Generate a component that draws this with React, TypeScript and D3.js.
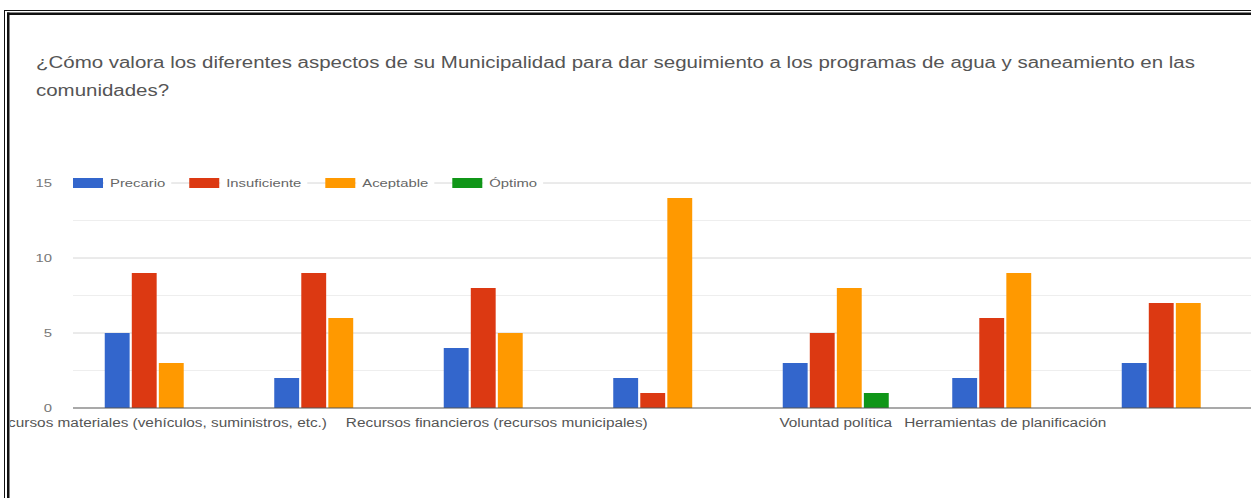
import { useEffect, useRef } from "react";
import * as d3 from "d3";

// question text (two lines, wrapped as in the form)
const titleLines = [
  "¿Cómo valora los diferentes aspectos de su Municipalidad para dar seguimiento a los programas de agua y saneamiento en las",
  "comunidades?",
];

// only some category labels are readable on the axis, the others are hidden
const categories = [
  "Recursos materiales (vehículos, suministros, etc.)",
  "",
  "Recursos financieros (recursos municipales)",
  "",
  "Voluntad política",
  "Herramientas de planificación",
  "",
];

const seriesNames = ["Precario", "Insuficiente", "Aceptable", "Óptimo"];
const precario = [5, 2, 4, 2, 3, 2, 3];
const insuficiente = [9, 9, 8, 1, 5, 6, 7];
const aceptable = [3, 6, 5, 14, 8, 9, 7];
const optimo = [0, 0, 0, 0, 1, 0, 0];
const yTicks = [0, 5, 10, 15];

const colors = ["#3366cc", "#dc3912", "#ff9900", "#109618"];

const W = 1251;
const H = 498;
const SX = 1.28; // the screenshot is stretched horizontally
const FONT = "'Liberation Sans', Arial, sans-serif";

const App = () => {
  const ref = useRef<SVGSVGElement>(null);

  useEffect(() => {
    const svg = d3.select(ref.current);
    svg.selectAll("*").remove();

    const series = [precario, insuficiente, aceptable, optimo];
    const margin = { top: 183, left: 73, bottom: 408, right: 1259.5 };

    // double frame, left and top only
    const frame = svg.append("g").attr("fill", "#111");
    frame.append("rect").attr("x", 4).attr("y", 10).attr("width", 1).attr("height", H - 10);
    frame.append("rect").attr("x", 7).attr("y", 12.5).attr("width", 2.5).attr("height", H - 12.5);
    frame.append("rect").attr("x", 4).attr("y", 10).attr("width", W).attr("height", 1);
    frame.append("rect").attr("x", 7).attr("y", 12.5).attr("width", W).attr("height", 2.5);

    svg
      .append("defs")
      .append("clipPath")
      .attr("id", "inner")
      .append("rect")
      .attr("x", 10)
      .attr("y", 16)
      .attr("width", W - 10)
      .attr("height", H - 16);

    const g = svg.append("g").attr("clip-path", "url(#inner)").attr("font-family", FONT);

    // stretched text helper
    const label = (parent: any, x: number, y: number, txt: string, size: number, fill: string, anchor = "start") => {
      const t = parent
        .append("g")
        .attr("transform", `translate(${x},${y}) scale(${SX},1)`)
        .append("text")
        .attr("font-size", size)
        .attr("fill", fill)
        .attr("text-anchor", anchor)
        .text(txt);
      return t;
    };

    titleLines.forEach((line, i) => label(g, 36, 68 + i * 28, line, 16, "#555"));

    const y = d3.scaleLinear().domain([0, 15]).range([margin.bottom, margin.top]);

    const x0 = d3
      .scaleBand<number>()
      .domain(d3.range(categories.length))
      .range([margin.left, margin.right])
      .padding(0);

    const groupW = 106;
    const x1 = d3.scaleBand<number>().domain(d3.range(series.length)).range([0, groupW]).paddingInner(0.08);

    // gridlines
    const minor = d3.pairs(yTicks).map(([a, b]) => (a + b) / 2);
    g.append("g")
      .selectAll("line")
      .data(minor)
      .join("line")
      .attr("x1", margin.left)
      .attr("x2", W)
      .attr("y1", (d) => y(d))
      .attr("y2", (d) => y(d))
      .attr("stroke", "#eeeeee");

    g.append("g")
      .selectAll("line")
      .data(yTicks.slice(1))
      .join("line")
      .attr("x1", margin.left)
      .attr("x2", W)
      .attr("y1", (d) => y(d))
      .attr("y2", (d) => y(d))
      .attr("stroke", "#d6d6d6");

    // y tick labels
    yTicks.forEach((v) => label(g, 52, y(v) + 4, String(v), 11.6, "#777", "end"));

    // bars
    series.forEach((vals, s) => {
      g.append("g")
        .attr("fill", colors[s])
        .selectAll("rect")
        .data(vals.map((v, i) => ({ v, i })).filter((d) => d.v > 0))
        .join("rect")
        .attr("x", (d) => x0(d.i)! + (x0.bandwidth() - groupW) / 2 + x1(s)!)
        .attr("y", (d) => y(d.v))
        .attr("width", x1.bandwidth())
        .attr("height", (d) => y(0) - y(d.v));
    });

    // baseline
    g.append("line")
      .attr("x1", margin.left)
      .attr("x2", W)
      .attr("y1", y(0))
      .attr("y2", y(0))
      .attr("stroke", "#555")
      .attr("stroke-width", 1.2);

    // category labels
    categories.forEach((c, i) => {
      if (c) label(g, x0(i)! + x0.bandwidth() / 2, 427, c, 12, "#555", "middle");
    });

    // legend sitting on the top gridline
    let lx = margin.left;
    const ly = y(15);
    seriesNames.forEach((name, s) => {
      g.append("rect")
        .attr("x", lx)
        .attr("y", ly - 5)
        .attr("width", 30)
        .attr("height", 10)
        .attr("fill", colors[s]);
      const bg = g.append("rect").attr("fill", "white");
      const t = label(g, lx + 37, ly + 4, name, 11.6, "#666");
      const tw = (t.node() as SVGTextElement).getComputedTextLength() * SX;
      bg.attr("x", lx + 31).attr("y", ly - 6).attr("width", tw + 12).attr("height", 12);
      lx += 37 + tw + 24;
    });
  }, []);

  return (
    <svg
      ref={ref}
      width={W}
      height={H}
      style={{ position: "absolute", left: 0, top: 0, background: "white" }}
    />
  );
};

export default App;
